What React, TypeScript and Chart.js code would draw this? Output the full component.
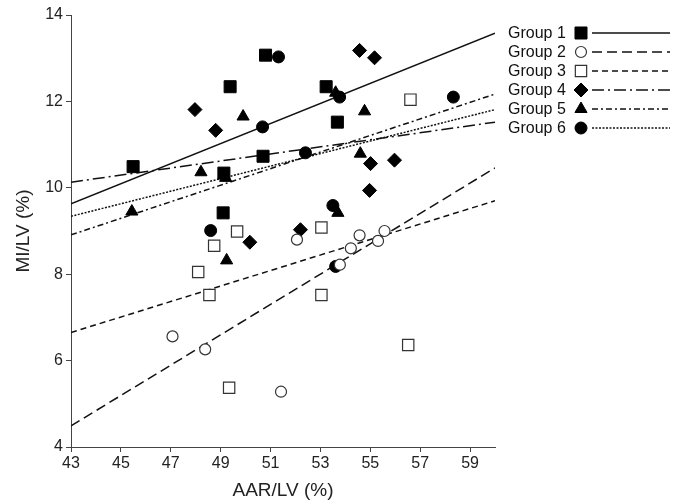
import React, { useEffect, useRef } from 'react';
import { Chart, registerables } from 'chart.js';

Chart.register(...registerables);

// ---- data ----
const xTickValues = [43, 45, 47, 49, 51, 53, 55, 57, 59];
const yTickValues = [4, 6, 8, 10, 12, 14];
const groupNames = ['Group 1', 'Group 2', 'Group 3', 'Group 4', 'Group 5', 'Group 6'];

const g1x = [45.49, 49.38, 50.8, 53.23, 53.68, 50.7, 49.13, 49.1];
const g1y = [10.49, 12.34, 13.07, 12.34, 11.52, 10.73, 10.34, 9.42];

const g2x = [47.07, 48.38, 51.42, 52.06, 53.78, 54.22, 54.57, 55.31, 55.57];
const g2y = [6.56, 6.26, 5.28, 8.8, 8.22, 8.6, 8.9, 8.77, 9.0];

const g3x = [48.74, 49.66, 48.1, 48.55, 49.34, 53.04, 53.04, 56.52, 56.61];
const g3y = [8.66, 8.99, 8.05, 7.52, 5.37, 9.08, 7.52, 6.36, 12.04];

const g4x = [47.97, 48.8, 54.57, 55.17, 55.01, 55.97, 54.97, 52.2, 50.17];
const g4y = [11.81, 11.33, 13.18, 13.01, 10.56, 10.64, 9.94, 9.03, 8.74];

const g5x = [45.44, 48.21, 49.2, 49.24, 49.9, 53.61, 54.77, 54.6, 53.7];
const g5y = [9.45, 10.36, 10.23, 8.32, 11.65, 12.2, 11.77, 10.79, 9.42];

const g6x = [51.32, 50.68, 53.77, 58.33, 52.4, 48.6, 53.5, 53.61];
const g6y = [13.03, 11.41, 12.1, 12.1, 10.81, 9.01, 9.59, 8.18];

// regression line end values at x = 43 and x = 60
const fitX = [43, 60];
const fit1 = [9.63, 13.58];
const fit2 = [4.49, 10.46];
const fit3 = [6.65, 9.7];
const fit4 = [10.13, 11.52];
const fit5 = [8.91, 12.17];
const fit6 = [9.34, 11.81];

const groupXs = [g1x, g2x, g3x, g4x, g5x, g6x];
const groupYs = [g1y, g2y, g3y, g4y, g5y, g6y];
const fits = [fit1, fit2, fit3, fit4, fit5, fit6];

// ---- styles ----
const FONT = '"Liberation Sans", Arial, Helvetica, sans-serif';
const styles = [
  { shape: 'rect', fill: '#000', stroke: '#000', r: 8.5, lw: 1, dash: [] as number[] },
  { shape: 'circle', fill: '#fff', stroke: '#333', r: 5.5, lw: 1.2, dash: [10, 5] },
  { shape: 'rect', fill: '#fff', stroke: '#333', r: 8, lw: 1.2, dash: [6, 4] },
  { shape: 'rectRot', fill: '#000', stroke: '#000', r: 7, lw: 1, dash: [12, 4, 2, 4] },
  { shape: 'triangle', fill: '#000', stroke: '#000', r: 7, lw: 1, dash: [6, 3, 2, 3] },
  { shape: 'circle', fill: '#000', stroke: '#000', r: 6, lw: 1, dash: [2, 1.5] },
];

function drawMarker(ctx: CanvasRenderingContext2D, shape: string, x: number, y: number, r: number, fill: string, stroke: string, lw: number) {
  ctx.save();
  ctx.beginPath();
  if (shape === 'circle') {
    ctx.arc(x, y, r, 0, Math.PI * 2);
  } else if (shape === 'rect') {
    const s = Math.SQRT1_2 * r;
    ctx.rect(x - s, y - s, 2 * s, 2 * s);
  } else if (shape === 'rectRot') {
    ctx.moveTo(x, y - r);
    ctx.lineTo(x + r, y);
    ctx.lineTo(x, y + r);
    ctx.lineTo(x - r, y);
    ctx.closePath();
  } else if (shape === 'triangle') {
    ctx.moveTo(x, y - r);
    ctx.lineTo(x + r * Math.sin((2 * Math.PI) / 3), y + r / 2);
    ctx.lineTo(x - r * Math.sin((2 * Math.PI) / 3), y + r / 2);
    ctx.closePath();
  }
  ctx.fillStyle = fill;
  ctx.fill();
  ctx.lineWidth = lw;
  ctx.strokeStyle = stroke;
  ctx.stroke();
  ctx.restore();
}

const legendPlugin = {
  id: 'customLegend',
  afterDraw(chart: any) {
    const ctx: CanvasRenderingContext2D = chart.ctx;
    ctx.save();
    groupNames.forEach((name, i) => {
      const y = 33 + 19 * i;
      const st = styles[i];
      ctx.font = `16px ${FONT}`;
      ctx.fillStyle = '#111';
      ctx.textAlign = 'left';
      ctx.textBaseline = 'middle';
      ctx.fillText(name, 508, y + 1);
      drawMarker(ctx, st.shape, 581, y, st.r, st.fill, st.stroke, st.lw);
      ctx.beginPath();
      ctx.setLineDash(st.dash);
      ctx.lineWidth = 1.5;
      ctx.strokeStyle = '#111';
      ctx.moveTo(592, y);
      ctx.lineTo(670, y);
      ctx.stroke();
      ctx.setLineDash([]);
    });
    ctx.restore();
  },
};

export default function App() {
  const canvasRef = useRef<HTMLCanvasElement | null>(null);

  useEffect(() => {
    if (!canvasRef.current) return;
    const datasets: any[] = [];
    fits.forEach((f, i) => {
      datasets.push({
        type: 'line',
        label: groupNames[i] + ' fit',
        data: fitX.map((x, k) => ({ x, y: f[k] })),
        borderColor: '#111',
        borderWidth: 1.5,
        borderDash: styles[i].dash,
        pointRadius: 0,
        fill: false,
        order: 2,
      });
    });
    groupXs.forEach((xs, i) => {
      const st = styles[i];
      datasets.push({
        type: 'scatter',
        label: groupNames[i],
        data: xs.map((x, k) => ({ x, y: groupYs[i][k] })),
        pointStyle: st.shape,
        pointRadius: st.r,
        pointBackgroundColor: st.fill,
        pointBorderColor: st.stroke,
        pointBorderWidth: st.lw,
        showLine: false,
        order: 1,
      });
    });

    const chart = new Chart(canvasRef.current, {
      type: 'scatter',
      data: { datasets },
      options: {
        animation: false,
        responsive: false,
        layout: { padding: { left: 0, right: 181, top: 15, bottom: 0 } },
        plugins: { legend: { display: false }, tooltip: { enabled: false } },
        scales: {
          x: {
            type: 'linear',
            min: 43,
            max: 60,
            afterBuildTicks: (scale: any) => {
              scale.ticks = xTickValues.map((v) => ({ value: v }));
            },
            afterFit: (scale: any) => {
              scale.height = 55;
            },
            grid: { display: true, drawOnChartArea: false, drawTicks: true, tickLength: 5, color: '#444' },
            border: { display: true, color: '#444', width: 1 },
            ticks: { color: '#222', padding: 2, font: { size: 16, family: FONT }, maxRotation: 0, autoSkip: false },
            title: { display: true, text: 'AAR/LV (%)', color: '#222', font: { size: 19, family: FONT }, padding: { top: 0, bottom: 0 } },
          },
          y: {
            type: 'linear',
            min: 4,
            max: 14,
            afterBuildTicks: (scale: any) => {
              scale.ticks = yTickValues.map((v) => ({ value: v }));
            },
            afterFit: (scale: any) => {
              scale.width = 71;
            },
            grid: { display: true, drawOnChartArea: false, drawTicks: true, tickLength: 5, color: '#444' },
            border: { display: true, color: '#444', width: 1 },
            ticks: { color: '#222', padding: 3, font: { size: 16, family: FONT } },
            title: { display: true, text: 'MI/LV (%)', color: '#222', font: { size: 19, family: FONT }, padding: { top: 12, bottom: 0 } },
          },
        },
      },
      plugins: [legendPlugin],
    } as any);
    return () => chart.destroy();
  }, []);

  return (
    <div style={{ position: 'fixed', left: 0, top: 0, width: 676, height: 502, background: '#fff' }}>
      <canvas ref={canvasRef} width={676} height={502} style={{ display: 'block' }} />
    </div>
  );
}
